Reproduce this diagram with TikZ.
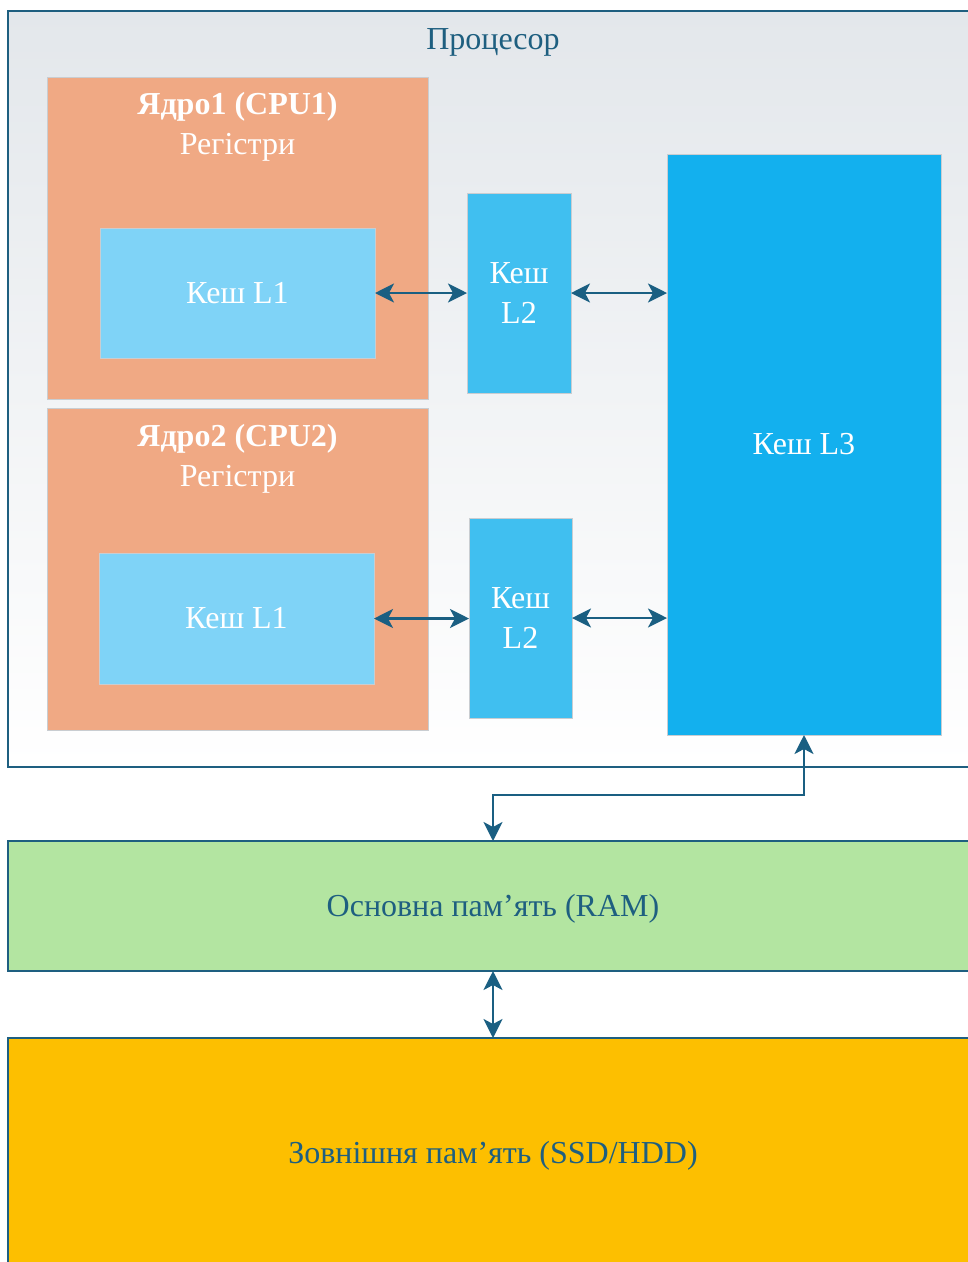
\documentclass[tikz,border=0pt]{standalone}
\usepackage{fontspec}
\setmainfont{Liberation Serif}
\usetikzlibrary{arrows.meta,positioning}

\definecolor{frame}{HTML}{1E5F80}
\definecolor{link}{HTML}{1A5F82}
\definecolor{procTop}{HTML}{E3E7EB}
\definecolor{coreFill}{HTML}{F0A984}
\definecolor{lOne}{HTML}{7FD3F7}
\definecolor{lTwo}{HTML}{40BFF0}
\definecolor{lThree}{HTML}{13B0EE}
\definecolor{ramFill}{HTML}{B3E5A1}
\definecolor{ssdFill}{HTML}{FDBF00}
\definecolor{thinEdge}{HTML}{C9CDD1}

\tikzset{
  headtip/.tip={Stealth[length=19pt,width=19pt,inset=5pt]},
  bigfont/.style={font=\fontsize{32}{40}\selectfont},
  blk/.style={rectangle, inner sep=0pt, outer sep=0pt, anchor=north west,
    draw=thinEdge, line width=1pt, text=white, bigfont, align=center},
  outer/.style={rectangle, inner sep=0pt, outer sep=0pt, anchor=north west,
    draw=frame, line width=2pt},
  caption/.style={text=frame, bigfont},
  dbl/.style={headtip-headtip, draw=link, line width=2.5pt},
}

\begin{document}
\begin{tikzpicture}[x=1pt,y=-1pt]
\useasboundingbox (0,0) rectangle (968,1262);
\clip (0,0) rectangle (968,1262);

% processor package
\node[outer, top color=procTop, bottom color=white,
      minimum width=970pt, minimum height=756pt] (proc) at (8,11) {};
\node[caption] (proct) at (493,42) {Процесор};

% cores
\node[blk, fill=coreFill, minimum width=381pt, minimum height=322pt] (core1) at (47,77) {};
\node[text=white, bigfont, align=center] (core1t) at (237.5,127)
  {\textbf{Ядро1 (CPU1)}\\Регістри};
\node[blk, fill=coreFill, minimum width=381pt, minimum height=322pt] (core2) at (47,408) {};
\node[text=white, bigfont, align=center] (core2t) at (237.5,459)
  {\textbf{Ядро2 (CPU2)}\\Регістри};

% L1 caches
\node[blk, fill=lOne, minimum width=275pt, minimum height=130pt] (l1a) at (100,228) {Кеш L1};
\node[blk, fill=lOne, minimum width=275pt, minimum height=131pt] (l1b) at (99,553) {Кеш L1};

% L2 caches
\node[blk, fill=lTwo, minimum width=104pt, minimum height=200pt] (l2a) at (467,193) {Кеш\\L2};
\node[blk, fill=lTwo, minimum width=103pt, minimum height=200pt] (l2b) at (469,518) {Кеш\\L2};

% shared L3
\node[blk, fill=lThree, minimum width=274pt, minimum height=581pt] (l3) at (667,154) {Кеш L3};

% main and external memory
\node[outer, fill=ramFill, minimum width=970pt, minimum height=130pt] (ram) at (8,841) {};
\node[caption] (ramt) at (493,909) {Основна пам’ять (RAM)};
\node[outer, fill=ssdFill, minimum width=970pt, minimum height=240pt] (ssd) at (8,1038) {};
\node[caption] (ssdt) at (493,1156) {Зовнішня пам’ять (SSD/HDD)};

% links
\draw[dbl] (l1a.east) -- (l2a.west |- l1a.east);
\draw[dbl] (l2a.east) -- (l3.west |- l2a.east);
\draw[dbl] (l1b.east) -- (l2b.west |- l1b.east);
\draw[dbl] (l2b.east) -- (l3.west |- l2b.east);
\coordinate (bendR) at (804,795);
\coordinate (bendL) at (493,795);
\draw[dbl] (l3.south -| bendR) -- (bendR) -- (bendL) -- (ram.north -| bendL);
\draw[dbl] (ram.south -| bendL) -- (ssd.north -| bendL);
\end{tikzpicture}
\end{document}
